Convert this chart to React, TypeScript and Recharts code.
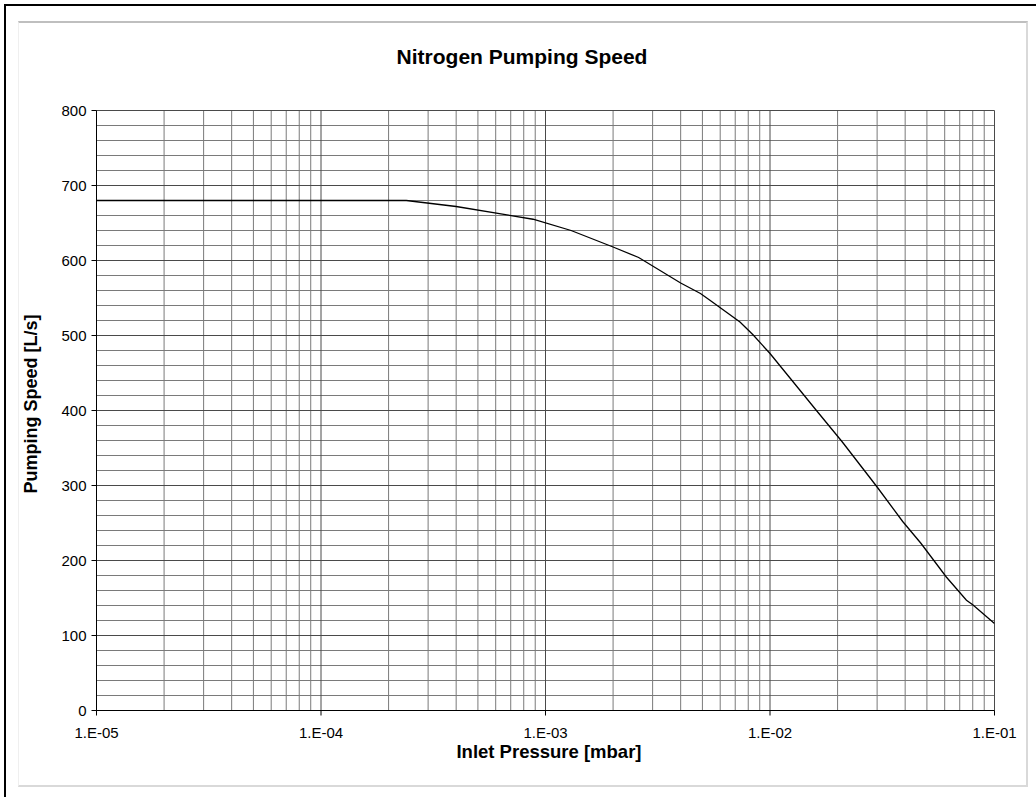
import { LineChart, Line, XAxis, YAxis, ReferenceLine } from "recharts";

// inlet pressure [mbar] and pumping speed [L/s]
const pressures = [
  1e-5, 2.4e-4, 4e-4, 8.8e-4, 1.3e-3, 2.0e-3, 2.6e-3, 4.0e-3, 4.9e-3, 5.4e-3, 7.35e-3, 8.4e-3,
  1.0e-2, 1.23e-2, 1.6e-2, 2.1e-2, 3.0e-2, 3.9e-2, 4.7e-2, 6.1e-2, 7.5e-2, 8.0e-2, 1e-1,
];
const speeds = [
  680, 680, 672, 655, 640, 618, 604, 570, 556, 547, 518, 501,
  476, 443, 401, 358, 298, 252, 223, 178, 147, 141, 116,
];

const decades = [1e-5, 1e-4, 1e-3, 1e-2, 1e-1];
const minorSteps = [2, 3, 4, 5, 6, 7, 8, 9];
const speedTicks = [0, 100, 200, 300, 400, 500, 600, 700, 800];
const speedMinor = [20, 40, 60, 80];

const data = pressures.map((p, i) => ({ p, speed: speeds[i] }));

const minorX = decades.slice(0, -1).flatMap((d) => minorSteps.map((m) => d * m));
const minorY = speedTicks.slice(0, -1).flatMap((t) => speedMinor.map((m) => t + m));

const fmtExp = (v: number) => {
  const e = Math.round(Math.log10(v));
  return `1.E${e < 0 ? "-" : "+"}${String(Math.abs(e)).padStart(2, "0")}`;
};

const font = '"Liberation Sans", Arial, sans-serif';

export default function App() {
  return (
    <div style={{ position: "absolute", left: 0, top: 0, width: 1036, height: 797, background: "#fff", fontFamily: font, overflow: "hidden" }}>
      <div style={{ position: "absolute", left: 4, top: 4, width: 1100, height: 900, borderLeft: "2px solid #000", borderTop: "2px solid #000" }} />
      <div
        style={{
          position: "absolute",
          left: 18,
          top: 21,
          width: 1007,
          height: 762,
          borderTop: "2px solid #bfbfbf",
          borderRight: "2px solid #d9d9d9",
          borderBottom: "2px solid #d9d9d9",
          borderLeft: "1px solid #efefef",
        }}
      />
      <div style={{ position: "absolute", left: 18, width: 1008, top: 44, textAlign: "center", fontWeight: "bold", fontSize: 21, lineHeight: "26px" }}>
        Nitrogen Pumping Speed
      </div>
      <div style={{ position: "absolute", left: 100, width: 898, top: 741, textAlign: "center", fontWeight: "bold", fontSize: 18.5, lineHeight: "22px" }}>
        Inlet Pressure [mbar]
      </div>
      <div
        style={{
          position: "absolute",
          left: 31 - 150,
          width: 300,
          top: 404 - 11,
          height: 22,
          textAlign: "center",
          fontWeight: "bold",
          fontSize: 18,
          lineHeight: "22px",
          transform: "rotate(-90deg)",
        }}
      >
        Pumping Speed [L/s]
      </div>
      <div style={{ position: "absolute", left: 0, top: 0 }}>
        <LineChart width={1036} height={797} data={data} margin={{ top: 110.5, right: 41.5, bottom: 56.5, left: 36.5 }}>
          {minorX.map((v) => (
            <ReferenceLine key={`mx${v}`} x={v} stroke="#7a7a7a" strokeWidth={1} />
          ))}
          {minorY.map((v) => (
            <ReferenceLine key={`my${v}`} y={v} stroke="#7a7a7a" strokeWidth={1} />
          ))}
          {decades.map((v) => (
            <ReferenceLine key={`Mx${v}`} x={v} stroke="#4a4a4a" strokeWidth={1} />
          ))}
          {speedTicks.map((v) => (
            <ReferenceLine key={`My${v}`} y={v} stroke="#4a4a4a" strokeWidth={1} />
          ))}
          <XAxis
            dataKey="p"
            type="number"
            scale="log"
            domain={[1e-5, 1e-1]}
            ticks={decades}
            interval={0}
            allowDataOverflow
            tickFormatter={fmtExp}
            height={30}
            tickSize={5}
            tickMargin={12}
            axisLine={{ stroke: "#000" }}
            tickLine={{ stroke: "#000" }}
            tick={{ fill: "#000", fontSize: 15, fontFamily: font }}
          />
          <YAxis
            type="number"
            domain={[0, 800]}
            ticks={speedTicks}
            interval={0}
            width={60}
            tickSize={5}
            tickMargin={5}
            axisLine={{ stroke: "#000" }}
            tickLine={{ stroke: "#000" }}
            tick={{ fill: "#000", fontSize: 15, fontFamily: font }}
          />
          <Line dataKey="speed" type="linear" stroke="#000" strokeWidth={1.3} dot={false} isAnimationActive={false} />
        </LineChart>
      </div>
    </div>
  );
}
